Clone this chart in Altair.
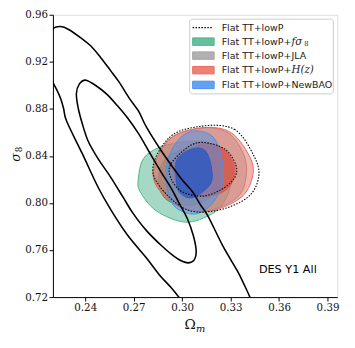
import altair as alt
import pandas as pd

X_DOMAIN = [0.22, 0.396]
Y_DOMAIN = [0.72, 0.96]
X_TICKS = [0.24, 0.27, 0.30, 0.33, 0.36, 0.39]
Y_TICKS = [0.72, 0.76, 0.80, 0.84, 0.88, 0.92, 0.96]

# DES Y1 All contours (Omega_m, sigma_8)
des_outer_x = [0.3033, 0.2979, 0.2930, 0.2858, 0.2779, 0.2659, 0.2556, 0.2478, 0.2381, 0.2285,
               0.2266, 0.2248, 0.2224, 0.2200, 0.2176, 0.2170, 0.2182, 0.2200, 0.2248, 0.2297,
               0.2375, 0.2435, 0.2496, 0.2556, 0.2610, 0.2671, 0.2731, 0.2779, 0.2882, 0.2991,
               0.3063, 0.3111, 0.3160, 0.3250, 0.3341, 0.3383, 0.3419, 0.3443]
des_outer_y = [0.7101, 0.7200, 0.7283, 0.7391, 0.7532, 0.7732, 0.7948, 0.8138, 0.8421, 0.8695,
               0.8803, 0.8886, 0.8961, 0.9027, 0.9127, 0.9318, 0.9442, 0.9484, 0.9500, 0.9475,
               0.9401, 0.9334, 0.9235, 0.9127, 0.9027, 0.8894, 0.8778, 0.8645, 0.8421, 0.8213,
               0.8097, 0.7989, 0.7889, 0.7640, 0.7424, 0.7308, 0.7200, 0.7101]
des_inner_x = [0.2405, 0.2478, 0.2538, 0.2598, 0.2659, 0.2731, 0.2798, 0.2870, 0.2930, 0.2985,
               0.3033, 0.3069, 0.3087, 0.3075, 0.3039, 0.2997, 0.2948, 0.2876, 0.2779, 0.2695,
               0.2635, 0.2556, 0.2478, 0.2417, 0.2381, 0.2357, 0.2345, 0.2363]
des_inner_y = [0.9044, 0.8986, 0.8919, 0.8828, 0.8728, 0.8587, 0.8429, 0.8263, 0.8130, 0.7989,
               0.7864, 0.7723, 0.7590, 0.7516, 0.7491, 0.7507, 0.7549, 0.7632, 0.7765, 0.7914,
               0.8047, 0.8222, 0.8379, 0.8529, 0.8678, 0.8803, 0.8927, 0.9010]

# Flat TT+lowP (dotted)
tt_outer_x = [0.3122, 0.3323, 0.3443, 0.3474, 0.3403, 0.3202, 0.3001, 0.2820, 0.2920]
tt_outer_y = [0.8653, 0.8626, 0.8404, 0.8224, 0.8045, 0.7933, 0.7962, 0.8252, 0.8556]
tt_inner_x = [0.2920, 0.3021, 0.3122, 0.3262, 0.3333, 0.3323, 0.3242, 0.3122, 0.2980]
tt_inner_y = [0.8294, 0.8460, 0.8515, 0.8460, 0.8321, 0.8211, 0.8114, 0.8058, 0.8114]

# + f sigma_8 (green)
fs8_outer_x = [0.2760, 0.2860, 0.3021, 0.3182, 0.3303, 0.3306, 0.3262, 0.3182, 0.3021, 0.2840, 0.2739, 0.2729]
fs8_outer_y = [0.8377, 0.8473, 0.8520, 0.8501, 0.8321, 0.8183, 0.8016, 0.7906, 0.7837, 0.7933, 0.8099, 0.8211]
fs8_inner_x = [0.2852, 0.2888, 0.2991, 0.3111, 0.3202, 0.3226, 0.3172, 0.3051, 0.2930, 0.2870]
fs8_inner_y = [0.8213, 0.8363, 0.8446, 0.8446, 0.8346, 0.8197, 0.8047, 0.7981, 0.8006, 0.8086]

# + JLA (gray)
jla_outer_x = [0.2822, 0.2918, 0.3117, 0.3286, 0.3383, 0.3395, 0.3341, 0.3172, 0.3021, 0.2882]
jla_outer_y = [0.8263, 0.8537, 0.8637, 0.8595, 0.8404, 0.8213, 0.8047, 0.7939, 0.7948, 0.8072]
jla_inner_x = [0.2930, 0.3021, 0.3117, 0.3250, 0.3311, 0.3305, 0.3232, 0.3117, 0.2985]
jla_inner_y = [0.8296, 0.8455, 0.8512, 0.8462, 0.8321, 0.8205, 0.8114, 0.8064, 0.8114]

# + H(z) (red)
hz_outer_x = [0.2820, 0.2920, 0.3122, 0.3303, 0.3424, 0.3433, 0.3363, 0.3182, 0.3021, 0.2880]
hz_outer_y = [0.8266, 0.8543, 0.8639, 0.8598, 0.8377, 0.8211, 0.8045, 0.7933, 0.7948, 0.8072]
hz_inner_x = [0.2971, 0.3122, 0.3252, 0.3323, 0.3312, 0.3242, 0.3122, 0.3001, 0.2950]
hz_inner_y = [0.8377, 0.8501, 0.8460, 0.8321, 0.8183, 0.8086, 0.8058, 0.8099, 0.8238]

# + NewBAO (blue)
bao_outer_x = [0.3101, 0.3202, 0.3252, 0.3242, 0.3162, 0.3061, 0.2941, 0.2900, 0.2920, 0.3001]
bao_outer_y = [0.8612, 0.8543, 0.8321, 0.8128, 0.7962, 0.7906, 0.7989, 0.8211, 0.8404, 0.8570]
bao_inner_x = [0.2961, 0.2971, 0.3061, 0.3142, 0.3182, 0.3172, 0.3061, 0.2980]
bao_inner_y = [0.8252, 0.8377, 0.8460, 0.8446, 0.8294, 0.8155, 0.8045, 0.8099]

legend_labels = ["Flat TT+lowP", "Flat TT+lowP+", "Flat TT+lowP+JLA", "Flat TT+lowP+", "Flat TT+lowP+NewBAO"]
legend_colors = [None, "#4cb48c", "#a3a3a3", "#ec6a5e", "#4a90ee"]

annot_x = [0.3475]
annot_y = [0.7430]
annot_text = ["DES Y1 All"]

W, H = 291, 289
xscale = alt.Scale(domain=X_DOMAIN, nice=False, zero=False)
yscale = alt.Scale(domain=Y_DOMAIN, nice=False, zero=False)
xaxis = alt.Axis(values=X_TICKS, format=".2f", title=None, grid=False, tickSize=4,
                 labelPadding=2, labelFont="DejaVu Serif", labelFontSize=10.5, labelColor="#111",
                 domainColor="black", tickColor="black", labelFlush=False)
yaxis = alt.Axis(values=Y_TICKS, format=".2f", title=None, grid=False, tickSize=4,
                 labelPadding=1.5, labelFont="DejaVu Serif", labelFontSize=10.5, labelColor="#111",
                 domainColor="black", tickColor="black", labelFlush=False)


def contour(xs, ys, stroke, width=1.0, fill=None, fill_opacity=0.0, dash=None,
            interp="cardinal-closed"):
    df = pd.DataFrame({"x": xs, "y": ys, "i": list(range(len(xs)))})
    kw = dict(stroke=stroke, strokeWidth=width, interpolate=interp, clip=True)
    if fill is not None:
        kw["fill"] = fill
        kw["fillOpacity"] = fill_opacity
    if dash is not None:
        kw["strokeDash"] = dash
    return alt.Chart(df).mark_line(**kw).encode(
        x=alt.X("x:Q", scale=xscale, axis=xaxis),
        y=alt.Y("y:Q", scale=yscale, axis=yaxis),
        order=alt.Order("i:Q"),
    )


layers = [
    contour(fs8_outer_x, fs8_outer_y, "#4cb48c", 1.0, "#4cb48c", 0.5),
    contour(fs8_inner_x, fs8_inner_y, "#2e9a67", 1.0, "#2e9a67", 0.7),
    contour(jla_outer_x, jla_outer_y, "#9a9a9a", 1.0, "#a3a3a3", 0.5),
    contour(jla_inner_x, jla_inner_y, "#8a8a8a", 1.0, "#8a8a8a", 0.6),
    contour(hz_outer_x, hz_outer_y, "#e8685c", 1.0, "#e8685c", 0.5),
    contour(hz_inner_x, hz_inner_y, "#dc5449", 1.0, "#dc5449", 0.75),
    contour(bao_outer_x, bao_outer_y, "#4a8fe8", 1.0, "#4a8fe8", 0.5),
    contour(bao_inner_x, bao_inner_y, "#2f5bbf", 1.0, "#2f5bbf", 0.85),
    contour(tt_outer_x, tt_outer_y, "black", 1.1, dash=[1.5, 1.5]),
    contour(tt_inner_x, tt_inner_y, "black", 1.1, dash=[1.5, 1.5]),
    contour(des_outer_x, des_outer_y, "black", 1.6, interp="cardinal"),
    contour(des_inner_x, des_inner_y, "black", 1.6),
]

annot = alt.Chart(pd.DataFrame({"x": annot_x, "y": annot_y, "t": annot_text})).mark_text(
    align="left", baseline="middle", font="DejaVu Sans", fontSize=11.5, color="black"
).encode(x=alt.X("x:Q", scale=xscale, axis=xaxis), y=alt.Y("y:Q", scale=yscale, axis=yaxis), text="t:N")
layers.append(annot)

# legend (drawn by hand, in pixel positions of the plot area)
layers.append(alt.Chart().mark_rect(fill="white", fillOpacity=0.85, stroke="#cccccc", strokeWidth=1,
                                    cornerRadius=3).encode(
    x=alt.value(140), x2=alt.value(287), y=alt.value(4.5), y2=alt.value(81)))
row_y = [13.2, 27.5, 41.8, 56.7, 71.8]
for k in range(5):
    if legend_colors[k] is None:
        layers.append(alt.Chart().mark_rule(stroke="black", strokeWidth=1.1, strokeDash=[1.5, 1.5]).encode(
            x=alt.value(143), x2=alt.value(163), y=alt.value(row_y[k])))
    else:
        layers.append(alt.Chart().mark_rect(fill=legend_colors[k], fillOpacity=0.85,
                                            stroke=legend_colors[k], strokeWidth=1).encode(
            x=alt.value(143), x2=alt.value(165), y=alt.value(row_y[k] - 3.8), y2=alt.value(row_y[k] + 3.8)))
    layers.append(alt.Chart().mark_text(text=legend_labels[k], align="left", baseline="middle",
                                        font="DejaVu Sans", fontSize=9.7, color="#222").encode(
        x=alt.value(172.7), y=alt.value(row_y[k])))

# math parts of legend labels
math_x = 172.7 + 71.5
layers.append(alt.Chart().mark_text(text="fσ", align="left", baseline="middle", font="DejaVu Serif",
                                    fontStyle="italic", fontSize=10.5, color="#222").encode(
    x=alt.value(math_x), y=alt.value(row_y[1])))
layers.append(alt.Chart().mark_text(text="8", align="left", baseline="middle", font="DejaVu Serif",
                                    fontSize=7, color="#222").encode(
    x=alt.value(math_x + 13), y=alt.value(row_y[1] + 2.5)))
layers.append(alt.Chart().mark_text(text="H(z)", align="left", baseline="middle", font="DejaVu Serif",
                                    fontStyle="italic", fontSize=10.5, color="#222").encode(
    x=alt.value(math_x), y=alt.value(row_y[3])))

# axis titles
layers.append(alt.Chart().mark_text(text="Ω", align="center", baseline="alphabetic", font="DejaVu Serif",
                                    fontSize=14, color="#111").encode(x=alt.value(140.5), y=alt.value(322)))
layers.append(alt.Chart().mark_text(text="m", align="left", baseline="alphabetic", font="DejaVu Serif",
                                    fontStyle="italic", fontSize=10, color="#111").encode(
    x=alt.value(146.5), y=alt.value(325)))
layers.append(alt.Chart().mark_text(text="σ", align="center", baseline="middle", font="DejaVu Serif",
                                    fontStyle="italic", fontSize=13, angle=270, color="#111").encode(
    x=alt.value(-38), y=alt.value(146)))
layers.append(alt.Chart().mark_text(text="8", align="center", baseline="middle", font="DejaVu Serif",
                                    fontSize=9, angle=270, color="#111").encode(
    x=alt.value(-34.5), y=alt.value(138)))

chart = alt.layer(*layers).properties(
    width=W, height=H,
    autosize=alt.AutoSizeParams(type="none"),
    padding={"left": 46, "top": 3, "right": 10, "bottom": 40},
).configure_view(stroke="black", strokeWidth=1.2).configure(background="white")

chart.save("out.html", embed_options={"renderer": "svg", "actions": False})
